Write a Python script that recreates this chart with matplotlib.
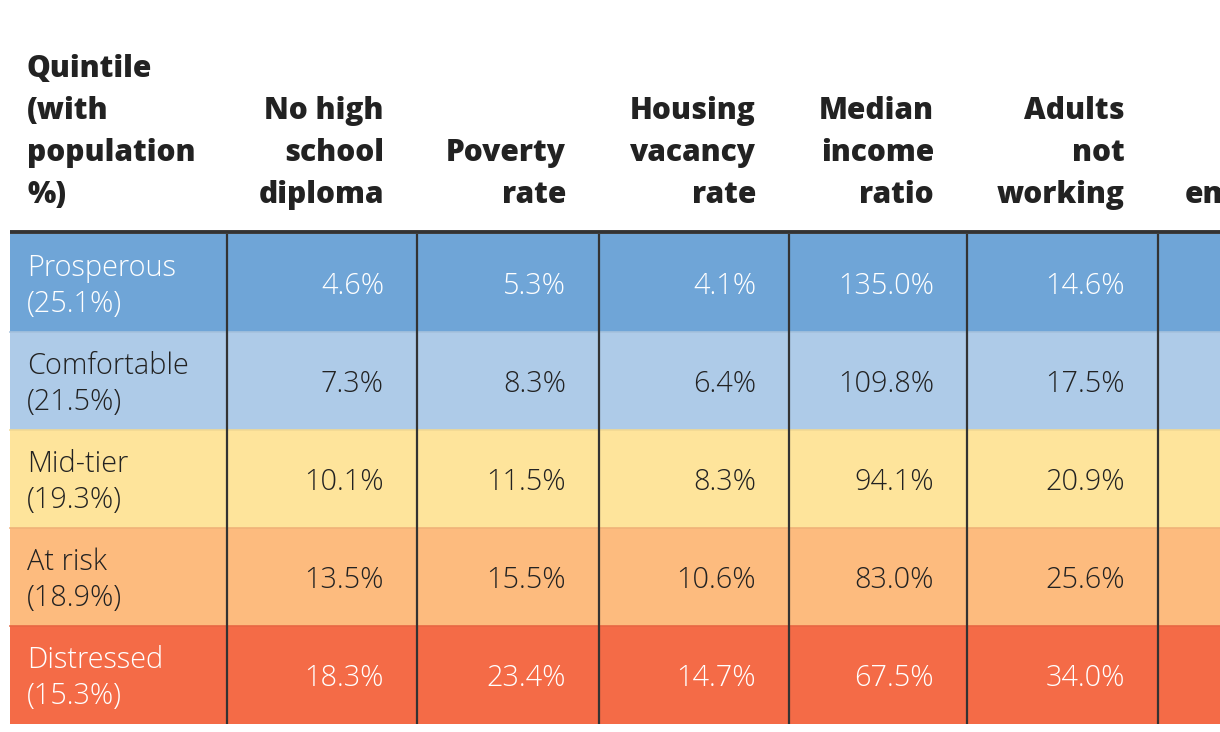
import matplotlib.pyplot as plt
from matplotlib.patches import Rectangle
from matplotlib.colors import to_rgb

# table content
headers = [
    "Quintile\n(with\npopulation\n%)",
    "No high\nschool\ndiploma",
    "Poverty\nrate",
    "Housing\nvacancy\nrate",
    "Median\nincome\nratio",
    "Adults\nnot\nworking",
    "Change in\nemployment",
]
quintiles = ["Prosperous\n(25.1%)", "Comfortable\n(21.5%)", "Mid-tier\n(19.3%)",
             "At risk\n(18.9%)", "Distressed\n(15.3%)"]
no_hs = ["4.6%", "7.3%", "10.1%", "13.5%", "18.3%"]
poverty = ["5.3%", "8.3%", "11.5%", "15.5%", "23.4%"]
vacancy = ["4.1%", "6.4%", "8.3%", "10.6%", "14.7%"]
income = ["135.0%", "109.8%", "94.1%", "83.0%", "67.5%"]
not_working = ["14.6%", "17.5%", "20.9%", "25.6%", "34.0%"]
row_colors = ["#6fa5d7", "#aecbe8", "#fee49b", "#fdbb7e", "#f46b47"]
text_colors = ["white", "#222222", "#222222", "#222222", "white"]

columns = [no_hs, poverty, vacancy, income, not_working]

# layout in pixels
col_edges = [10, 227, 417, 599, 789, 967, 1158, 1349]
header_bottom = 232
row_h = 98
pad = 33
W, H = 1220, 732

plt.rcParams['font.family'] = ['Open Sans', 'DejaVu Sans']

fig = plt.figure(figsize=(W / 100, H / 100), dpi=100)
ax = fig.add_axes([0, 0, 1, 1])
ax.set_xlim(0, W)
ax.set_ylim(H, 0)
ax.axis("off")

hdr_fs = 21.5
body_fs = 20.8
dark = "#222222"
hdr_base = 203

# headers
for j, h in enumerate(headers):
    if j == 0:
        ax.text(col_edges[0] + 17, hdr_base, h, ha="left", va="baseline", fontsize=hdr_fs,
                fontweight=800, color=dark, linespacing=1.52)
    elif j == len(headers) - 1:
        # last column runs past the right edge of the picture
        ax.text(1185, hdr_base, h, ha="left", va="baseline", multialignment="right",
                fontsize=hdr_fs, fontweight=800, color=dark, linespacing=1.52)
    else:
        ax.text(col_edges[j + 1] - pad, hdr_base, h, ha="right", va="baseline", fontsize=hdr_fs,
                fontweight=800, color=dark, linespacing=1.52)

# rows
top = header_bottom + 2
for i, q in enumerate(quintiles):
    y0 = top + i * row_h
    ax.add_patch(Rectangle((col_edges[0], y0), col_edges[-1] - col_edges[0], row_h,
                           facecolor=row_colors[i], edgecolor="none"))
    if i > 0:
        r, g, b = to_rgb(row_colors[i])
        ax.plot([col_edges[0], col_edges[-1]], [y0, y0], color=(r * 0.95, g * 0.95, b * 0.95), lw=1.2)
    yc = y0 + row_h / 2
    ax.text(col_edges[0] + 17, yc + 3, q, ha="left", va="center", fontsize=body_fs,
            fontweight="light", color=text_colors[i], linespacing=1.3)
    for j, col in enumerate(columns):
        ax.text(col_edges[j + 2] - pad, yc + 3, col[i], ha="right", va="center", fontsize=body_fs,
                fontweight="light", color=text_colors[i])

bottom = top + len(quintiles) * row_h
# header rule
ax.plot([col_edges[0], col_edges[-1]], [header_bottom, header_bottom], color="#333333", lw=2.8,
        solid_capstyle="butt")
# vertical rules
for x in col_edges[1:-1]:
    ax.plot([x, x], [top, bottom], color="#333333", lw=1.6, solid_capstyle="butt")

fig.savefig("out.png", dpi=100)
